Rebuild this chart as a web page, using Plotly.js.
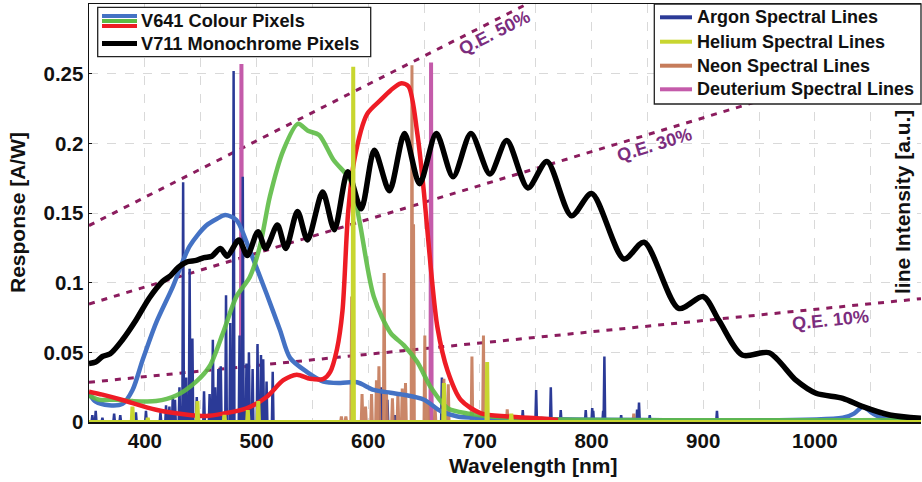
<!DOCTYPE html>
<html><head><meta charset="utf-8">
<script src="https://cdn.plot.ly/plotly-3.0.1.min.js"></script>
<style>html,body{margin:0;padding:0;background:#fff}#chart{width:922px;height:482px}</style>
</head><body><div id="chart"></div>
<script>
// ---------- data ----------
const monoWl = [350,356,362,369,380,392,404,416,423,430,438,446,453,460,467.7,473.7,484.2,491.7,501.3,508.2,518.7,526.2,536.7,545.7,559.2,569.7,581.7,593.7,605.5,619,632.5,646,661,676,692,709,724,743,760,782,800,829,847,878,900,914,935,959,983,1001,1025,1043,1067,1095];
const monoResp = [0.042,0.043,0.047,0.049,0.059,0.073,0.089,0.101,0.105,0.111,0.115,0.116,0.118,0.119,0.1246,0.119,0.1306,0.1195,0.1366,0.1246,0.1413,0.1246,0.151,0.1306,0.165,0.138,0.1796,0.153,0.195,0.166,0.207,0.171,0.207,0.176,0.207,0.178,0.202,0.168,0.187,0.148,0.164,0.117,0.129,0.0815,0.090,0.073,0.048,0.0497,0.030,0.0206,0.017,0.011,0.005,0.0026];

const blueWl = [350,356,368,380,389,398,410,425,440,455,465,472,482,494,509,521,530,545,560,575,590,605,620,632,650,665,680,700,1025,1035,1043,1052,1060,1095];
const blueResp = [0.0206,0.0146,0.012,0.013,0.023,0.0445,0.071,0.097,0.126,0.141,0.146,0.1485,0.145,0.123,0.092,0.066,0.046,0.036,0.029,0.028,0.0285,0.023,0.021,0.0195,0.016,0.0078,0.004,0.003,0.003,0.006,0.011,0.006,0.003,0.002];

const greenWl = [350,359,374,389,410,428,446,458,470,482,494,503,512,524,537,546,556,569,584,592,605,620,632,644,656,671,690,710,760,1095];
const greenResp = [0.019,0.016,0.016,0.015,0.015,0.019,0.029,0.040,0.064,0.090,0.104,0.126,0.162,0.195,0.214,0.209,0.206,0.188,0.1736,0.145,0.09,0.064,0.055,0.043,0.025,0.010,0.006,0.004,0.002,0.0015];

const redWl = [350,362,380,410,440,455,470,491,509,524,536,548,560,566,572,577,582,588,599,611,620,629,636,644,650,656,662,671,683,701,725,755,770];
const redResp = [0.0218,0.0196,0.0158,0.0088,0.0051,0.0043,0.006,0.0098,0.018,0.030,0.034,0.031,0.031,0.036,0.052,0.08,0.15,0.19,0.221,0.231,0.238,0.243,0.241,0.207,0.164,0.111,0.068,0.037,0.0158,0.0062,0.004,0.0025,0.0015];

const argonWl = [353,356,362,372.5,378,392,401,414,419,422,425,427,431,434.3,437,440.1,442.6,446.5,453,458,460.9,463,465.8,468,472.7,476.5,479.5,484.8,487.7,491,493.2,496.5,500.9,504,506,509,514.5,611.5,617.2,624,666,668.5,738.4,750.4,763.5,772.4,794.8,800.6,801.5,810.4,811.5,826.5,840.8,842.5,852.1,912.3];
const argonInt = [0.005,0.008,0.003,0.006,0.005,0.007,0.008,0.007,0.012,0.011,0.018,0.016,0.025,0.172,0.032,0.11,0.06,0.018,0.022,0.02,0.059,0.025,0.038,0.040,0.091,0.071,0.252,0.062,0.176,0.042,0.05,0.038,0.056,0.048,0.045,0.029,0.036,0.025,0.016,0.005,0.032,0.025,0.0086,0.023,0.025,0.0086,0.0086,0.010,0.008,0.008,0.047,0.005,0.009,0.014,0.005,0.008];

const neonWl = [576,580,585.2,594.5,597.6,603,607.4,609.6,614.3,616.4,621.7,626.6,630.5,633.4,639.2,640.6,650.7,653.3,659.9,667.8,671.7,692.9,703.2,717.4,724.5,743.9,837.8];
const neonInt = [0.004,0.004,0.09,0.02,0.011,0.02,0.03,0.04,0.107,0.02,0.017,0.021,0.024,0.028,0.256,0.142,0.062,0.015,0.01,0.031,0.027,0.047,0.062,0.004,0.009,0.003,0.006];

const heliumWl = [388.9,402.6,447.1,471.3,492.2,501.6,586.6,667.8,706.5,728.1];
const heliumInt = [0.011,0.003,0.015,0.005,0.0085,0.015,0.255,0.028,0.043,0.006];

const deutWl = [486.5,656.3];
const deutInt = [0.257,0.258];

const qeWl = [350,1095];
const qe50 = [0.141,0.443];
const qe30 = [0.0847,0.2657];
const qe10 = [0.0285,0.0885];
const qeLabels = ['Q.E. 50%','Q.E. 30%','Q.E. 10%'];
const qeLabelWl = [712.7,856,1013.6];
const qeLabelResp = [0.279,0.1987,0.073];
const qeLabelAngle = [-26.7,-16.8,-5.8];

const legendLeft = ['V641 Colour Pixels','V711 Monochrome Pixels'];
const legendRight = ['Argon Spectral Lines','Helium Spectral Lines','Neon Spectral Lines','Deuterium Spectral Lines'];

// ---------- styling ----------
const C = {blue:'#4472C4', green:'#5DBB45', red:'#EE1C25', black:'#000000',
  argon:'#2B3A97', helium:'#C8D630', neon:'#C67C5B', deut:'#C45BAA', qe:'#8B1C5E', qeText:'#7B2D7E'};
const FONT = 'Liberation Sans, Arial, Helvetica, sans-serif';

function peaks(wl, inten, hw) {
  const idx = wl.map((_, i) => i).sort((a, b) => wl[a] - wl[b]);
  const x = [350], y = [0];
  idx.forEach(i => { x.push(wl[i] - hw, wl[i], wl[i] + hw); y.push(0, inten[i], 0); });
  x.push(1095); y.push(0);
  return {x, y};
}

const ar = peaks(argonWl, argonInt, 0.7);
const ne = peaks(neonWl, neonInt, 0.7);
const he = peaks(heliumWl, heliumInt, 0.6);
const de = peaks(deutWl, deutInt, 0.5);

const traces = [
  {x: qeWl, y: qe50, mode:'lines', line:{color:C.qe, width:3, dash:'6px,7px'}, hoverinfo:'skip'},
  {x: qeWl, y: qe30, mode:'lines', line:{color:C.qe, width:3, dash:'6px,7px'}, hoverinfo:'skip'},
  {x: qeWl, y: qe10, mode:'lines', line:{color:C.qe, width:3, dash:'6px,7px'}, hoverinfo:'skip'},
  {x: de.x, y: de.y, mode:'lines', line:{color:C.deut, width:4}},
  {x: ar.x, y: ar.y, mode:'lines', line:{color:C.argon, width:2.5}},
  {x: ne.x, y: ne.y, mode:'lines', line:{color:C.neon, width:3}, opacity:0.92},
  {x: blueWl, y: blueResp, mode:'lines', line:{color:C.blue, width:4.5, shape:'spline', smoothing:0.8}},
  {x: greenWl, y: greenResp, mode:'lines', line:{color:C.green, width:4.5, shape:'spline', smoothing:0.8}, opacity:0.9},
  {x: redWl, y: redResp, mode:'lines', line:{color:C.red, width:4.5, shape:'spline', smoothing:0.8}},
  {x: monoWl, y: monoResp, mode:'lines', line:{color:C.black, width:5.5, shape:'spline', smoothing:0.8}},
  {x: he.x, y: he.y, mode:'lines', line:{color:C.helium, width:4}}
];

// pixel -> paper helpers for the plot box (l=89, t=4, w=832, h=418)
const PL = 89, PT = 4, PW = 832, PH = 418;
const px = v => (v - PL) / PW;
const py = v => (PT + PH - v) / PH;

const shapes = [];
const annotations = [];

// left legend
shapes.push({type:'rect', xref:'paper', yref:'paper', x0:px(97.7), x1:px(370.7), y0:py(56.7), y1:py(7.3), fillcolor:'#fff', line:{color:'#222', width:1.3}, layer:'above'});
[[C.blue,16],[C.green,21],[C.red,26]].forEach(([c, yy]) => shapes.push({type:'line', xref:'paper', yref:'paper', x0:px(102), x1:px(137), y0:py(yy), y1:py(yy), line:{color:c, width:4}, layer:'above'}));
shapes.push({type:'line', xref:'paper', yref:'paper', x0:px(102), x1:px(137), y0:py(43.5), y1:py(43.5), line:{color:C.black, width:5}, layer:'above'});
[21.5, 44.3].forEach((yy, i) => annotations.push({xref:'paper', yref:'paper', x:px(139), y:py(yy), xanchor:'left', yanchor:'middle', text:legendLeft[i], showarrow:false, font:{family:FONT, size:18.2, weight:'bold', color:'#111'}}));

// right legend
shapes.push({type:'rect', xref:'paper', yref:'paper', x0:px(654.3), x1:px(921), y0:py(104), y1:py(4), fillcolor:'#fff', line:{color:'#222', width:1.3}, layer:'above'});
const rowsR = [17.3, 41.7, 65.7, 89.3];
const colsR = [C.argon, C.helium, C.neon, C.deut];
rowsR.forEach((yy, i) => {
  shapes.push({type:'line', xref:'paper', yref:'paper', x0:px(660), x1:px(692), y0:py(yy), y1:py(yy), line:{color:colsR[i], width:4}, layer:'above'});
  annotations.push({xref:'paper', yref:'paper', x:px(695), y:py(yy), xanchor:'left', yanchor:'middle', text:legendRight[i], showarrow:false, font:{family:FONT, size:18, weight:'bold', color:'#111'}});
});

// QE labels
qeLabels.forEach((t, i) => annotations.push({x:qeLabelWl[i], y:qeLabelResp[i], xref:'x', yref:'y', text:t, textangle:qeLabelAngle[i], showarrow:false, font:{family:FONT, size:18, weight:'bold', color:C.qeText}}));

// axis titles
annotations.push({xref:'paper', yref:'paper', x:px(17), y:0.5, text:'Response [A/W]', textangle:-90, showarrow:false, xanchor:'center', yanchor:'middle', font:{family:FONT, size:21, weight:'bold', color:'#111'}});
annotations.push({xref:'paper', yref:'paper', x:px(533), y:py(465), text:'Wavelength [nm]', showarrow:false, xanchor:'center', yanchor:'middle', font:{family:FONT, size:21, weight:'bold', color:'#111'}});
annotations.push({xref:'paper', yref:'paper', x:px(902), y:py(202), text:'line Intensity [a.u.]', textangle:-90, showarrow:false, xanchor:'center', yanchor:'middle', font:{family:FONT, size:21, weight:'bold', color:'#111'}});

const layout = {
  width:922, height:482,
  margin:{l:PL, r:1, t:PT, b:60},
  paper_bgcolor:'#fff', plot_bgcolor:'#fff',
  showlegend:false,
  xaxis:{range:[350,1095], tick0:0, dtick:100, showgrid:true, gridcolor:'#d9d9d9', griddash:'dash', gridwidth:1,
    minor:{dtick:50, tick0:0, showgrid:true, gridcolor:'#d9d9d9', griddash:'dash', gridwidth:1},
    showline:true, mirror:true, linecolor:'#111', linewidth:1.5, ticks:'', zeroline:false,
    tickfont:{family:FONT, size:20.5, weight:'bold', color:'#111'}},
  yaxis:{range:[0,0.3], tickmode:'array', tickvals:[0,0.05,0.1,0.15,0.2,0.25], ticktext:['0','0.05','0.1','0.15','0.2','0.25'],
    showgrid:true, gridcolor:'#d9d9d9', griddash:'dash', gridwidth:1,
    showline:true, linecolor:'#111', linewidth:1.5, ticks:'inside', ticklen:3, tickcolor:'#111', zeroline:false,
    tickfont:{family:FONT, size:20.5, weight:'bold', color:'#111'}},
  shapes, annotations
};

Plotly.newPlot('chart', traces, layout, {staticPlot:true, displayModeBar:false});
</script></body></html>
